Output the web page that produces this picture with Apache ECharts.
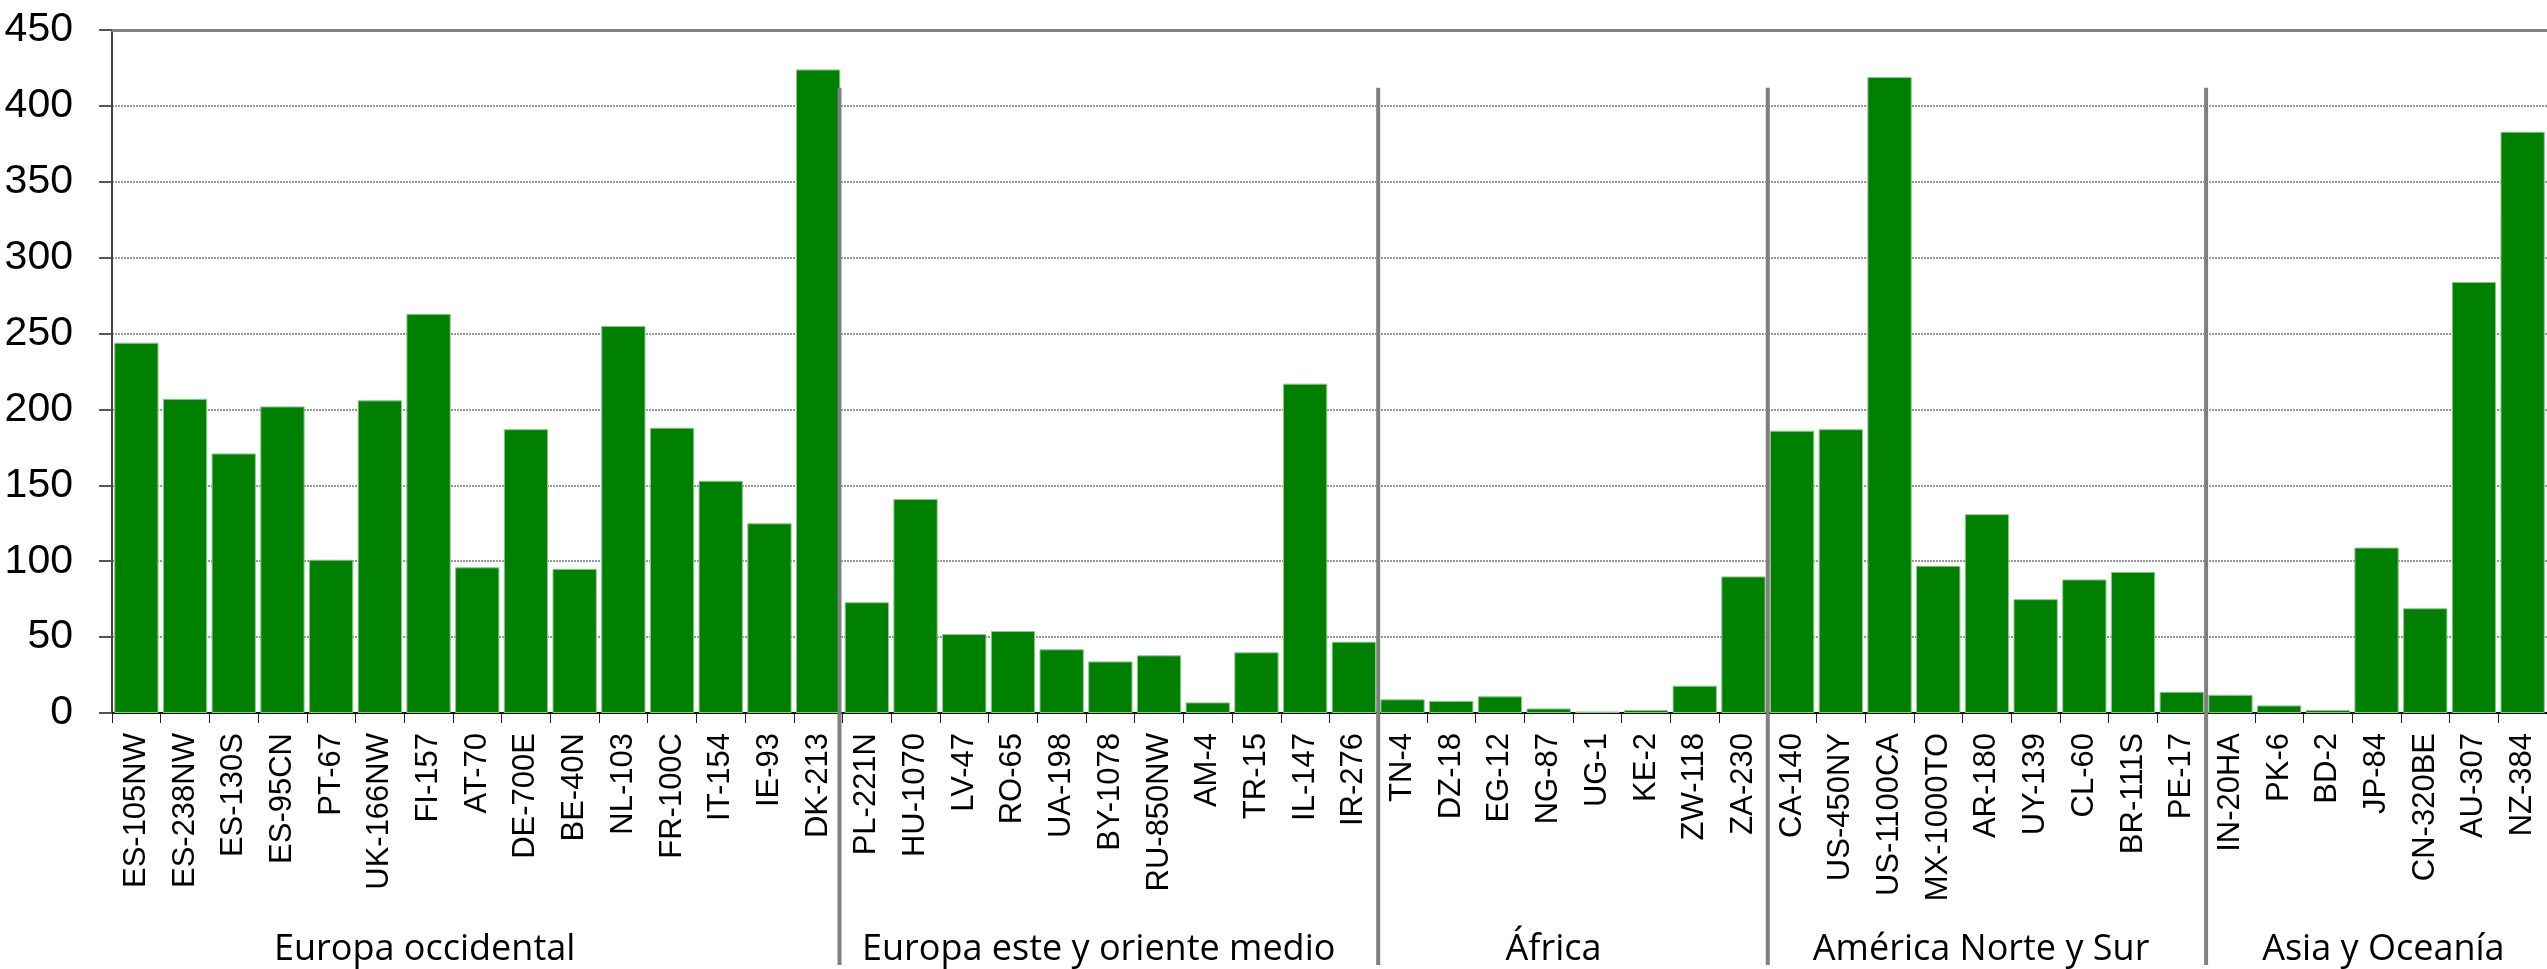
<!DOCTYPE html>
<html>
<head>
<meta charset="utf-8">
<script src="https://cdn.jsdelivr.net/npm/echarts@6/dist/echarts.min.js"></script>
<style>
html,body{margin:0;padding:0;background:#fff;}
#chart{width:2547px;height:969px;}
</style>
</head>
<body>
<div id="chart"></div>
<script>
// ---- data ----
const categories = [
  'ES-105NW','ES-238NW','ES-130S','ES-95CN','PT-67','UK-166NW','FI-157','AT-70','DE-700E','BE-40N','NL-103','FR-100C','IT-154','IE-93','DK-213',
  'PL-221N','HU-1070','LV-47','RO-65','UA-198','BY-1078','RU-850NW','AM-4','TR-15','IL-147','IR-276',
  'TN-4','DZ-18','EG-12','NG-87','UG-1','KE-2','ZW-118','ZA-230',
  'CA-140','US-450NY','US-1100CA','MX-1000TO','AR-180','UY-139','CL-60','BR-111S','PE-17',
  'IN-20HA','PK-6','BD-2','JP-84','CN-320BE','AU-307','NZ-384'
];
const values = [
  244, 207, 171, 202, 101, 206, 263, 96, 187, 95, 255, 188, 153, 125, 424,
  73, 141, 52, 54, 42, 34, 38, 7, 40, 217, 47,
  9, 8, 11, 3, 1, 2, 18, 90,
  186, 187, 419, 97, 131, 75, 88, 93, 14,
  12, 5, 2, 109, 69, 284, 383
];
const groupNames = ['Europa occidental', 'Europa este y oriente medio', 'África', 'América Norte y Sur', 'Asia y Oceanía'];
const groupSizes = [15, 11, 8, 9, 7];
const yMin = 0, yMax = 450, yInterval = 50;

// ---- layout (not data) ----
const groupLabelPos = [6.42, 20.26, 29.6, 38.38, 46.64]; // in category-band units from plot left
const dividerTopValue = 412;

const chart = echarts.init(document.getElementById('chart'));
const option = {
  animation: false,
  backgroundColor: '#ffffff',
  grid: { left: 112, right: 0, top: 30, bottom: 256, containLabel: false },
  xAxis: [{
    type: 'category',
    data: categories,
    boundaryGap: true,
    axisLine: { show: true, lineStyle: { color: '#111', width: 2 } },
    axisTick: { show: true, interval: 0, length: 10, lineStyle: { color: '#222', width: 1 } },
    axisLabel: {
      interval: 0, rotate: 90, margin: 20,
      fontFamily: 'Liberation Sans, Arial, sans-serif', fontSize: 31, color: '#000'
    },
    splitLine: { show: false }
  }, {
    type: 'category',
    data: categories,
    position: 'top',
    axisLine: { show: true, lineStyle: { color: '#808080', width: 3 } },
    axisTick: { show: false },
    axisLabel: { show: false }
  }],
  yAxis: {
    type: 'value',
    min: yMin, max: yMax, interval: yInterval,
    axisLine: { show: true, lineStyle: { color: '#444', width: 2 } },
    axisTick: { show: true, length: 13, lineStyle: { color: '#555', width: 2 } },
    axisLabel: {
      margin: 39,
      fontFamily: 'Liberation Sans, Arial, sans-serif', fontSize: 41, color: '#000'
    },
    splitLine: { show: true, lineStyle: { color: '#777', width: 1.5, type: [2, 1] } }
  },
  series: [{
    type: 'bar',
    data: values,
    barCategoryGap: '9%',
    itemStyle: { color: '#008000', borderColor: '#8fc88f', borderWidth: 1 }
  }]
};
chart.setOption(option);

function drawOverlays() {
  const c0 = chart.convertToPixel({ xAxisIndex: 0 }, 0);
  const c1 = chart.convertToPixel({ xAxisIndex: 0 }, 1);
  const bw = c1 - c0;
  const plotLeft = c0 - bw / 2;
  const yTop = chart.convertToPixel({ yAxisIndex: 0 }, dividerTopValue);
  const elements = [];
  let idx = 0;
  for (let g = 0; g < groupSizes.length; g++) {
    idx += groupSizes[g];
    if (g < groupSizes.length - 1) {
      const x = plotLeft + idx * bw - (g === 0 ? 3 : 0);
      elements.push({
        type: 'line', silent: true, z: 100,
        shape: { x1: x, y1: yTop, x2: x, y2: 965 },
        style: { stroke: '#808080', lineWidth: 4 }
      });
    }
    elements.push({
      type: 'text', silent: true, z: 100,
      x: plotLeft + groupLabelPos[g] * bw, y: 950,
      style: {
        text: groupNames[g],
        fontFamily: 'Open Sans, Noto Sans, sans-serif', fontSize: 36,
        fill: '#000', align: 'center', verticalAlign: 'middle'
      }
    });
  }
  chart.setOption({ graphic: { elements: elements } });
}
drawOverlays();
</script>
</body>
</html>
